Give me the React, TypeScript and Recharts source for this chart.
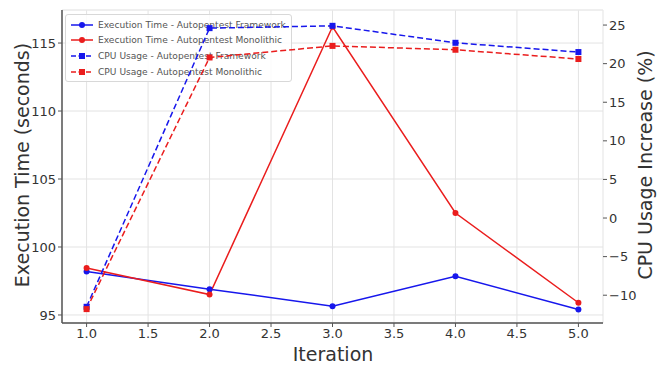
import React from "react"
import {
  LineChart, Line, XAxis, YAxis, CartesianGrid,
} from "recharts"

const iterations = [1, 2, 3, 4, 5]
const execFramework = [98.2, 96.9, 95.65, 97.85, 95.4]
const execMonolithic = [98.45, 96.5, 116.2, 102.5, 95.9]
const cpuFramework = [-11.5, 24.6, 24.9, 22.7, 21.5]
const cpuMonolithic = [-11.8, 20.8, 22.3, 21.8, 20.6]

const xTicks = [1, 1.5, 2, 2.5, 3, 3.5, 4, 4.5, 5]
const leftTicks = [95, 100, 105, 110, 115]
const rightTicks = [-10, -5, 0, 5, 10, 15, 20, 25]

const BLUE = "#1717ec"
const RED = "#ea1d1d"
const FONT = "'DejaVu Sans', sans-serif"
const W = 667
const H = 365

const data = iterations.map((it, i) => ({
  it,
  execFramework: execFramework[i],
  execMonolithic: execMonolithic[i],
  cpuFramework: cpuFramework[i],
  cpuMonolithic: cpuMonolithic[i],
}))

const series = [
  { key: "execFramework", name: "Execution Time - Autopentest Framework", color: BLUE, dashed: false, square: false, axis: "left" },
  { key: "execMonolithic", name: "Execution Time - Autopentest Monolithic", color: RED, dashed: false, square: false, axis: "left" },
  { key: "cpuFramework", name: "CPU Usage - Autopentest Framework", color: BLUE, dashed: true, square: true, axis: "right" },
  { key: "cpuMonolithic", name: "CPU Usage - Autopentest Monolithic", color: RED, dashed: true, square: true, axis: "right" },
]

function makeDot(color: string, square: boolean) {
  return (p: any) => {
    if (p.cx == null || p.cy == null) return <g key={p.index} />
    return square ? (
      <rect key={p.index} x={p.cx - 3} y={p.cy - 3} width={6} height={6} fill={color} />
    ) : (
      <circle key={p.index} cx={p.cx} cy={p.cy} r={3} fill={color} />
    )
  }
}

function LegendBox() {
  return (
    <div
      style={{
        position: "absolute",
        left: 65,
        top: 14,
        background: "rgba(255,255,255,0.85)",
        border: "1px solid #d8d8d8",
        borderRadius: 3,
        padding: "2px 5px 2px 4px",
        fontFamily: FONT,
        fontSize: 9.1,
        color: "#555",
      }}
    >
      {series.map((s) => (
        <div key={s.key} style={{ display: "flex", alignItems: "center", height: 15.6 }}>
          <svg width={24} height={8} style={{ marginRight: 4 }}>
            <line x1={1} y1={4} x2={23} y2={4} stroke={s.color} strokeWidth={1.5}
              strokeDasharray={s.dashed ? "5 2.5" : undefined} />
            {s.square
              ? <rect x={9} y={1} width={6} height={6} fill={s.color} />
              : <circle cx={12} cy={4} r={3} fill={s.color} />}
          </svg>
          <span>{s.name}</span>
        </div>
      ))}
    </div>
  )
}

// two stacked charts share the same plot box, like matplotlib twinx: the legend sits between them
function Axes({ showX, showLeft, showRight }: { showX: boolean; showLeft: boolean; showRight: boolean }) {
  const tick = { fontSize: 13, fill: "#333", fontFamily: FONT }
  const axisLine = { stroke: "#555", strokeWidth: 1.5 }
  return (
    <>
      <XAxis
        dataKey="it" type="number" domain={[0.8, 5.2]} ticks={xTicks} allowDataOverflow
        tickFormatter={(v: number) => v.toFixed(1)} tick={showX ? tick : false} tickSize={4}
        axisLine={showX ? axisLine : false} tickLine={showX ? { stroke: "#555" } : false} height={42}
      />
      <YAxis
        yAxisId="left" domain={[94.41, 117.43]} ticks={leftTicks} allowDataOverflow
        tick={showLeft ? tick : false} tickSize={4} width={62}
        axisLine={showLeft ? axisLine : false} tickLine={showLeft ? { stroke: "#555" } : false}
      />
      <YAxis
        yAxisId="right" orientation="right" domain={[-13.6, 26.95]} ticks={rightTicks} allowDataOverflow
        tick={showRight ? tick : false} tickSize={4} width={64} axisLine={false}
        tickLine={showRight ? { stroke: "#555" } : false}
        tickFormatter={(v: number) => (v < 0 ? "\u2212" + Math.abs(v) : String(v))}
      />
    </>
  )
}

function renderLine(s: (typeof series)[number]) {
  return (
    <Line
      key={s.key}
      yAxisId={s.axis}
      dataKey={s.key}
      name={s.name}
      stroke={s.color}
      strokeWidth={1.5}
      strokeDasharray={s.dashed ? "6 3" : undefined}
      dot={makeDot(s.color, s.square)}
      activeDot={false}
      isAnimationActive={false}
    />
  )
}

export default function App() {
  const margin = { top: 10, right: 0, bottom: 0, left: 0 }
  const label = { position: "absolute" as const, whiteSpace: "nowrap" as const, fontFamily: FONT, fontSize: 19, color: "#333" }
  return (
    <div style={{ position: "absolute", left: 0, top: 0, width: W, height: H, background: "#fff" }}>
      <div style={{ position: "absolute", left: 0, top: 0 }}>
        <LineChart width={W} height={H} data={data} margin={margin}>
          <CartesianGrid yAxisId="left" stroke="#e3e3e3" strokeWidth={1} />
          <CartesianGrid yAxisId="right" vertical={false} stroke="#ececec" strokeWidth={1} />
          {Axes({ showX: true, showLeft: true, showRight: false })}
          {series.filter((s) => s.axis === "left").map(renderLine)}
        </LineChart>
      </div>
      <LegendBox />
      <div style={{ position: "absolute", left: 0, top: 0 }}>
        <LineChart width={W} height={H} data={data} margin={margin}>
          {Axes({ showX: false, showLeft: false, showRight: true })}
          {series.filter((s) => s.axis === "right").map(renderLine)}
        </LineChart>
      </div>
      <div style={{ ...label, left: 22, top: 165, transform: "translate(-50%, -50%) rotate(-90deg)" }}>
        Execution Time (seconds)
      </div>
      <div style={{ ...label, left: 645, top: 165, transform: "translate(-50%, -50%) rotate(-90deg)" }}>
        CPU Usage Increase (%)
      </div>
      <div style={{ ...label, left: 333, top: 354, transform: "translate(-50%, -50%)" }}>
        Iteration
      </div>
    </div>
  )
}
